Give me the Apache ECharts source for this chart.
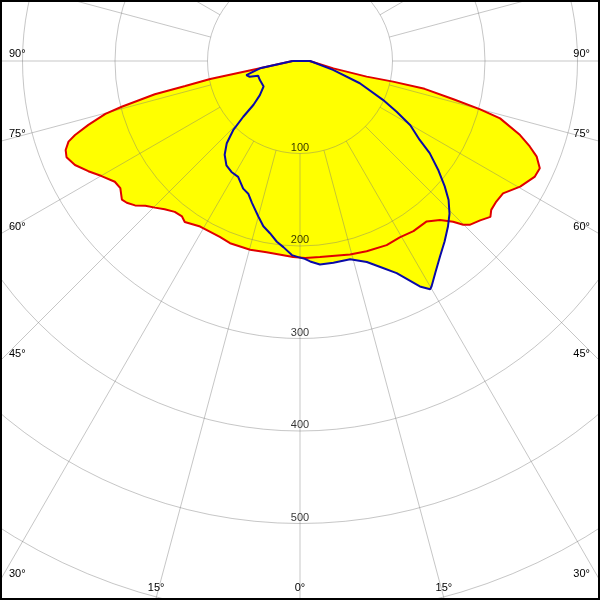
<!DOCTYPE html>
<html><head><meta charset="utf-8">
<script src="https://cdn.jsdelivr.net/npm/echarts@6/dist/echarts.min.js"></script>
<style>html,body{margin:0;padding:0;background:#fff}#c{width:600px;height:600px}</style>
</head><body><div id="c"></div>
<script>
// Plane C0-C180 (red): gamma (deg, negative = left) and intensity (cd)
const redAngles = [-90,-79.7,-78.7,-77.7,-77.1,-75.6,-74.8,-73.2,-71.8,-70.8,-69.2,-67.6,-65.2,-62.5,-59.9,-56.9,-54.7,-52.1,-50.7,-48.8,-46.9,-44.7,-42.4,-39.7,-37.2,-35.6,-31.1,-24.5,-21.0,-14.8,-9.9,-2.0,1.5,5.8,14.5,19.3,25.2,29.5,33.7,38.3,41.4,43.6,44.9,46.0,48.5,50.7,52.1,54.4,56.9,60.3,63.8,65.9,68.0,69.6,71.4,74.0,75.0,76.0,77.4,77.5,76.8,77.6,85.6,90,-90];
const redValues = [8,44,99,127,161,199,218,239,256,265,271,273,268,258,248,239,238,244,242,237,229,223,217,212,211,214,209,209,211,211,210,212,213,213,216,218,220,219,221,221,229,240,250,255,260,266,262,261,262,274,283,284,276,265,251,225,201,171,138,103,74,37,14,10,8];
// Plane C90-C270 (blue)
const blueAngles = [-90,-79.7,-75.3,-72.6,-70.6,-64.6,-55.0,-49.6,-46.7,-45.5,-44.0,-41.7,-38.8,-35.2,-31.7,-28.1,-24.0,-21.3,-18.7,-15.0,-12.5,-9.9,-7.3,-5.1,-2.4,-0.5,1.4,2.9,5.6,9.4,14.2,18.4,21.3,24.5,28.0,29.7,30.3,32.5,35.6,38.7,41.8,44.4,46.9,49.1,51.8,54.6,56.6,59.8,62.3,64.9,69.6,74.9,90,-90];
const blueValues = [8,44,60,57,48,48,48,57,69,86,104,119,130,138,141,142,151,154,162,174,183,189,197,202,210,212,214,217,221,221,221,229,239,252,276,284,282,272,260,250,240,231,220,207,190,172,155,138,118,99,69,37,11,8];
// Tick labels
const radiusTicks = [100,200,300,400,500];
const sideAngleTicks = [90,75,60,45,30];
const bottomAngleTicks = [-15,0,15];
const spokeStep = 15;
const circleStep = 100;

const CX = 300, CY = 61, RMAX = 700, RPX = 647.5;
const GRID = 'rgba(120,120,120,0.42)';
const FONT = '11px "Liberation Sans", Arial, sans-serif';
const pairs = (a, v) => a.map((ang, i) => [v[i], ang]);
const spokeAngles = [];
for (let a = -180; a < 180; a += spokeStep) spokeAngles.push(a);
const circleRadii = [];
for (let r = circleStep; r <= RMAX; r += circleStep) circleRadii.push(r);

const graphic = [];
sideAngleTicks.forEach(a => {
  const y = CY + 300 / Math.tan(a * Math.PI / 180) - 7;
  graphic.push({type:'text', x:9, y:y, z:50, style:{text:a+'°', fill:'#000', font:FONT, textAlign:'left', textVerticalAlign:'middle'}});
  graphic.push({type:'text', x:590, y:y, z:50, style:{text:a+'°', fill:'#000', font:FONT, textAlign:'right', textVerticalAlign:'middle'}});
});
bottomAngleTicks.forEach(a => {
  const x = CX + 537 * Math.tan(a * Math.PI / 180);
  graphic.push({type:'text', x:x, y:588, z:50, style:{text:Math.abs(a)+'°', fill:'#000', font:FONT, textAlign:'center', textVerticalAlign:'middle'}});
});
graphic.push({type:'rect', z:100, shape:{x:1,y:1,width:598,height:598}, style:{fill:'none', stroke:'#000', lineWidth:2}});

const chart = echarts.init(document.getElementById('c'), null, {renderer:'canvas', width:600, height:600});
const fillSeries = (a, v) => ({
  type:'line', coordinateSystem:'polar', data: pairs(a, v), showSymbol:false, symbol:'none',
  lineStyle:{opacity:0, width:0}, areaStyle:{color:'#ffff00', opacity:1}, z:1, silent:true
});
const lineSeries = (a, v, color, z) => ({
  type:'line', coordinateSystem:'polar', data: pairs(a, v), showSymbol:false, symbol:'none',
  lineStyle:{color:color, width:2}, z:z, silent:true
});
chart.setOption({
  animation:false,
  backgroundColor:'#fff',
  polar:{center:[CX, CY], radius:RPX},
  angleAxis:{type:'value', min:-180, max:180, startAngle:90, clockwise:false,
    axisLine:{show:false}, axisTick:{show:false}, axisLabel:{show:false}, splitLine:{show:false}},
  radiusAxis:{type:'value', min:0, max:RMAX, interval:100,
    axisLine:{show:false}, axisTick:{show:false}, axisLabel:{show:false}, splitLine:{show:false}},
  series:[
    fillSeries(redAngles, redValues),
    fillSeries(blueAngles, blueValues),
    {type:'custom', coordinateSystem:'polar', silent:true, z:6,
      data: circleRadii.map(r => [r, 0]), encode:{radius:0, angle:1},
      renderItem:(params, api) => {
        const c = api.coord([0, 0]), p = api.coord([api.value(0), 0]);
        const r = Math.hypot(p[0] - c[0], p[1] - c[1]);
        return {type:'circle', shape:{cx:c[0], cy:c[1], r:r}, style:{fill:'none', stroke:GRID, lineWidth:1}};
      }},
    {type:'custom', coordinateSystem:'polar', silent:true, z:6,
      data: spokeAngles.map(a => [RMAX + 100, a]), encode:{radius:0, angle:1},
      renderItem:(params, api) => {
        const a = api.value(1);
        const p1 = api.coord([100, a]), p2 = api.coord([RMAX + 100, a]);
        return {type:'line', shape:{x1:p1[0], y1:p1[1], x2:p2[0], y2:p2[1]}, style:{stroke:GRID, lineWidth:1}};
      }},
    lineSeries(redAngles, redValues, '#e00000', 10),
    lineSeries(blueAngles, blueValues, '#0a0aa8', 11),
    {type:'scatter', coordinateSystem:'polar', silent:true, z:12, symbolSize:1,
      itemStyle:{color:'rgba(0,0,0,0)'},
      data: radiusTicks.map(r => [r, 0]),
      label:{show:true, position:'top', distance:0, color:'#000', fontFamily:'Liberation Sans', fontSize:11,
        formatter: p => String(p.value[0])}}
  ],
  graphic: graphic
});
</script></body></html>
